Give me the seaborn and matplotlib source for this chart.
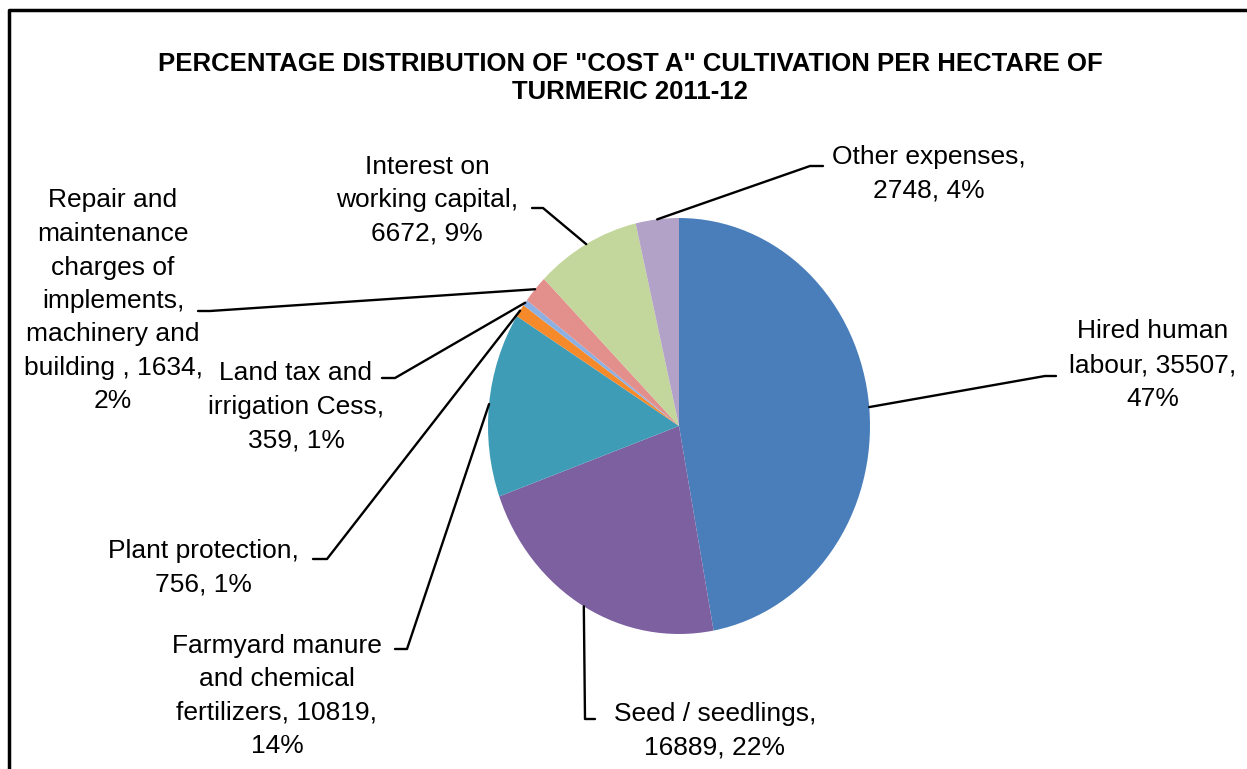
import numpy as np
import matplotlib.pyplot as plt
import seaborn as sns

# Data
categories = ['Hired human labour', 'Seed / seedlings', 'Farmyard manure and chemical fertilizers',
              'Plant protection', 'Land tax and irrigation Cess',
              'Repair and maintenance charges of implements, machinery and building',
              'Interest on working capital', 'Other expenses']
values = [35507, 16889, 10819, 756, 359, 1634, 6672, 2748]
percents = [47, 22, 14, 1, 1, 2, 9, 4]
label_templates = [
    'Hired human\nlabour, {v},\n{p}%',
    'Seed / seedlings,\n{v}, {p}%',
    'Farmyard manure\nand chemical\nfertilizers, {v},\n{p}%',
    'Plant protection,\n{v}, {p}%',
    'Land tax and\nirrigation Cess,\n{v}, {p}%',
    'Repair and\nmaintenance\ncharges of\nimplements,\nmachinery and\nbuilding , {v},\n{p}%',
    'Interest on\nworking capital,\n{v}, {p}%',
    'Other expenses,\n{v}, {p}%',
]
colors = ['#4a7ebb', '#7d60a0', '#3f9cb6', '#f68a2a', '#8cb0e2', '#e3908c', '#c3d69b', '#b3a2c7']

title = 'PERCENTAGE DISTRIBUTION OF "COST A" CULTIVATION PER HECTARE OF\nTURMERIC 2011-12'

# Layout (pixels)
W, H = 1247, 769
CX, CY, RX, RY = 679, 426, 191, 208
text_pos = [(1153, 365), (715, 731), (277, 696), (203, 568), (296, 407), (113, 301), (427, 200), (929, 174)]
# leader bend point and stub end near the text
leader_pts = [
    [(1045, 376), (1056, 376)],
    [(585, 719), (595, 719)],
    [(407, 649), (395, 649)],
    [(327, 559), (313, 559)],
    [(395, 378), (382, 378)],
    [(210, 311), (198, 311)],
    [(543, 208), (532, 208)],
    [(810, 166), (823, 166)],
]

sns.set_theme(style="white")
plt.rcParams['font.family'] = ['Liberation Sans', 'DejaVu Sans']
plt.rcParams['text.color'] = 'black'


def px(x, y):
    return (x - CX) / RX, (CY - y) / RY


fig = plt.figure(figsize=(W / 100, H / 100), dpi=100)
fig.patch.set_facecolor('white')
ax = fig.add_axes([0, 0, 1, 1])

wedges, _ = ax.pie(values, colors=colors, startangle=90, counterclock=False,
                   radius=1, center=(0, 0), wedgeprops=dict(linewidth=0))
ax.set_aspect('auto')
ax.set_xlim((0 - CX) / RX, (W - CX) / RX)
ax.set_ylim((CY - H) / RY, CY / RY)
ax.axis('off')

for w, tmpl, v, p, tp, lp in zip(wedges, label_templates, values, percents, text_pos, leader_pts):
    mid = np.deg2rad((w.theta1 + w.theta2) / 2)
    edge = (np.cos(mid), np.sin(mid))
    pts = [edge] + [px(*q) for q in lp]
    ax.plot([q[0] for q in pts], [q[1] for q in pts], color='black', lw=1.7, clip_on=False)
    tx, ty = px(*tp)
    ax.text(tx, ty, tmpl.format(v=v, p=p), ha='center', va='center', fontsize=19,
            linespacing=1.5, color='black')

tx, ty = px(630, 78)
ax.text(tx, ty, title, ha='center', va='center', fontsize=18.5, fontweight='bold',
        color='black', linespacing=1.25)

# chart border (top and left visible)
bx = [px(9, H + 5), px(9, 10), px(W + 5, 10)]
ax.plot([q[0] for q in bx], [q[1] for q in bx], color='black', lw=2.5, clip_on=False)

fig.savefig('out.png', dpi=100, facecolor='white')
